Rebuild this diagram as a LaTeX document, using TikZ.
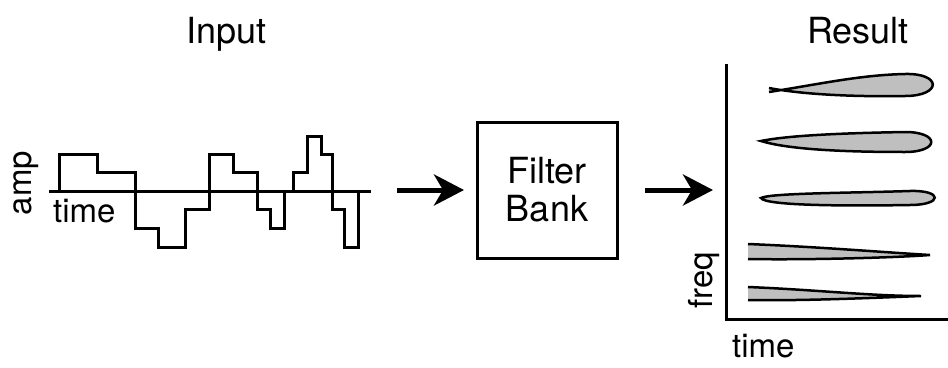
\documentclass[tikz,border=0pt]{standalone}
\usepackage{fontspec}
\setmainfont{TeX Gyre Heros}
\usetikzlibrary{arrows.meta}
\tikzset{
  bigtxt/.style={font=\fontsize{36}{38}\selectfont, inner sep=0pt},
  smalltxt/.style={font=\fontsize{33}{36}\selectfont, inner sep=0pt},
  wave/.style={line width=3pt, line join=miter},
  axisline/.style={line width=3pt},
  bigarrow/.style={line width=5pt, -{Stealth[length=30pt, width=31pt, inset=9pt]}},
  lobe/.style={fill=black!25, draw=black, line width=2.5pt},
  lobefill/.style={fill=black!25},
  lobeedge/.style={draw=black, line width=2.5pt}
}
\begin{document}
\begin{tikzpicture}[x=1pt,y=-1pt]
\useasboundingbox (0,0) rectangle (948,367);

% titles
\node[bigtxt, anchor=base west] (input) at (186,43) {Input};
\node[bigtxt, anchor=base west] (result) at (807,43) {Result};

% input waveform
\node[smalltxt, rotate=90] (amp) at (26,183) {amp};
\node[smalltxt, anchor=base west] (time1) at (53,222) {time};
\draw[axisline] (49,191) -- (371,191);
\draw[wave] (59,191)--(59,154)--(97,154)--(97,172)--(135,172)--(135,228)--(158,228)--(158,247)--(185,247)--(185,209)--(209,209)--(209,154)--(233,154)--(233,172)--(257,172)--(257,209)--(270,209)--(270,228)--(284,228)--(284,191)--(293,191)--(293,172)--(307,172)--(307,136)--(321,136)--(321,154)--(332,154)--(332,209)--(344,209)--(344,247)--(358,247)--(358,191);

% filter bank
\node[bigtxt, draw, line width=3pt, minimum width=140pt, minimum height=136pt, align=center] (fb) at (547,190) {Filter\\Bank};

\coordinate (a1s) at (397,190);
\coordinate (a1e) at (464,190);
\coordinate (a2s) at (645,190);
\coordinate (a2e) at (713,190);
\draw[bigarrow] (a1s) -- (a1e);
\draw[bigarrow] (a2s) -- (a2e);

% result plot
\coordinate (ytop) at (726,64);
\coordinate (orig) at (726,319);
\coordinate (xend) at (948,319);
\draw[axisline] (ytop) -- (orig) -- (xend);
\node[smalltxt, rotate=90] (freq) at (704,280) {freq};
\node[smalltxt, anchor=base west] (time2) at (732,357) {time};

% lobes
\draw[lobe] (769,92) .. controls (820,84) and (860,75) .. (905,74)
   .. controls (942,73) and (942,96) .. (905,96)
   .. controls (850,97) and (800,94) .. (769,88);
\draw[lobe] (761,141) .. controls (790,135) and (850,133) .. (905,132)
   .. controls (940,132) and (940,152) .. (905,152)
   .. controls (850,152) and (790,150) .. (761,141) -- cycle;
\draw[lobe] (761,198) .. controls (770,193) and (850,193) .. (910,191)
   .. controls (943,190) and (943,205) .. (910,205)
   .. controls (850,206) and (765,206) .. (761,198) -- cycle;
\fill[lobefill] (748,244) .. controls (820,247) and (880,252) .. (930,255)
   .. controls (890,258) and (800,260) .. (748,259) -- cycle;
\draw[lobeedge] (748,244) .. controls (820,247) and (880,252) .. (930,255)
   .. controls (890,258) and (800,260) .. (748,259);
\fill[lobefill] (748,287) .. controls (820,290) and (870,296) .. (921,296)
   .. controls (870,298) and (800,301) .. (748,300) -- cycle;
\draw[lobeedge] (748,287) .. controls (820,290) and (870,296) .. (921,296)
   .. controls (870,298) and (800,301) .. (748,300);
\end{tikzpicture}
\end{document}
